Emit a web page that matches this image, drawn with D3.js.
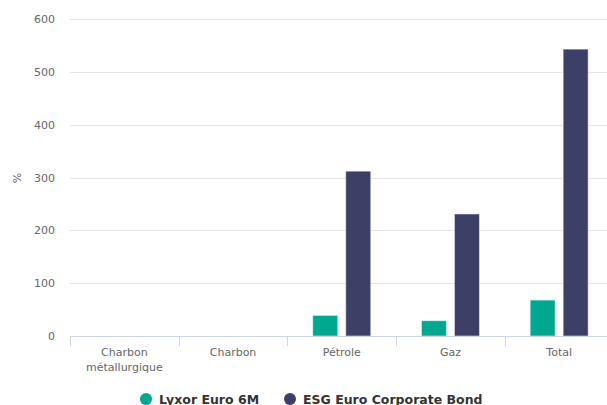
<!DOCTYPE html>
<html><head><meta charset="utf-8">
<script src="https://cdn.jsdelivr.net/npm/d3@7/dist/d3.min.js"></script>
<style>body{margin:0;background:#fff}svg{display:block;font-family:"DejaVu Sans",sans-serif}</style>
</head><body><svg id="c" width="607" height="405"></svg>
<script>
const categories = [["Charbon","métallurgique"],["Charbon"],["Pétrole"],["Gaz"],["Total"]];
const seriesNames = ["Lyxor Euro 6M","ESG Euro Corporate Bond"];
const lyxor = [0, 0, 39, 29, 68];
const esg = [0, 0, 312, 231, 543];
const yTicks = [0,100,200,300,400,500,600];
const colors = ["#00a88f","#3d4066"];

(function(){
const svg = d3.select("#c");
const pLeft = 70, pRight = 613.5, pTop = 19, pBottom = 336;
const x = d3.scaleBand().domain(d3.range(categories.length)).range([pLeft, pRight]);
const y = d3.scaleLinear().domain([0,600]).range([pBottom, pTop]);
const x1 = d3.scaleBand().domain([0,1]).range([0, x.bandwidth()]).paddingOuter(0.768).paddingInner(0.242);

// gridlines
svg.append("g").selectAll("line").data(yTicks.filter(d=>d>0)).join("line")
  .attr("x1", pLeft).attr("x2", 607).attr("y1", d=>Math.round(y(d))+0.5).attr("y2", d=>Math.round(y(d))+0.5)
  .attr("stroke","#e6e6e6");

// y labels
const yAxis = d3.axisLeft(y).tickValues(yTicks).tickSize(0).tickPadding(0);
const ya = svg.append("g").attr("transform",`translate(55,0)`).call(yAxis);
ya.select(".domain").remove();
ya.attr("font-family",null);
ya.selectAll("text").attr("fill","#666").style("font-size","11px").attr("dy","0.32em");

svg.append("text").attr("transform","translate(21,178) rotate(-90)").attr("text-anchor","middle")
  .attr("fill","#666").style("font-size","11px").text("%");

// bars
const data = [lyxor, esg];
data.forEach((vals, s) => {
  svg.append("g").selectAll("rect").data(vals).join("rect")
    .attr("x", (d,i)=> x(i) + x1(s))
    .attr("width", x1.bandwidth())
    .attr("y", d=> y(d))
    .attr("height", d=> Math.max(0, y(0)-y(d)))
    .attr("fill", colors[s]).attr("stroke","#fff").attr("stroke-opacity",0.5).attr("stroke-width",1);
});

// x axis
const xa = svg.append("g");
xa.append("line").attr("x1",pLeft).attr("x2",607).attr("y1",pBottom+0.5).attr("y2",pBottom+0.5).attr("stroke","#ccd6eb");
xa.selectAll("line.tick").data(d3.range(categories.length+1)).join("line").attr("class","tick")
  .attr("x1", i=>Math.round(pLeft + i*x.step())+0.5).attr("x2", i=>Math.round(pLeft + i*x.step())+0.5)
  .attr("y1",pBottom).attr("y2",pBottom+10).attr("stroke","#ccd6eb");
const lab = xa.selectAll("text").data(categories).join("text")
  .attr("text-anchor","middle").attr("fill","#666").style("font-size","11px")
  .attr("x",(d,i)=>x(i)+x.bandwidth()/2).attr("y",356);
lab.selectAll("tspan").data(d=>d).join("tspan")
  .attr("x",function(){return this.parentNode.getAttribute("x");})
  .attr("dy",(d,i)=>i===0?0:15).text(d=>d);

// legend
const leg = [{x:146,n:0},{x:290,n:1}];
leg.forEach(l=>{
  svg.append("circle").attr("cx",l.x).attr("cy",399).attr("r",6).attr("fill",colors[l.n]);
  svg.append("text").attr("x",l.x+13).attr("y",403.5).attr("fill","#333").style("font-size","12.5px").style("font-weight","bold").text(seriesNames[l.n]);
});
})();
</script></body></html>
